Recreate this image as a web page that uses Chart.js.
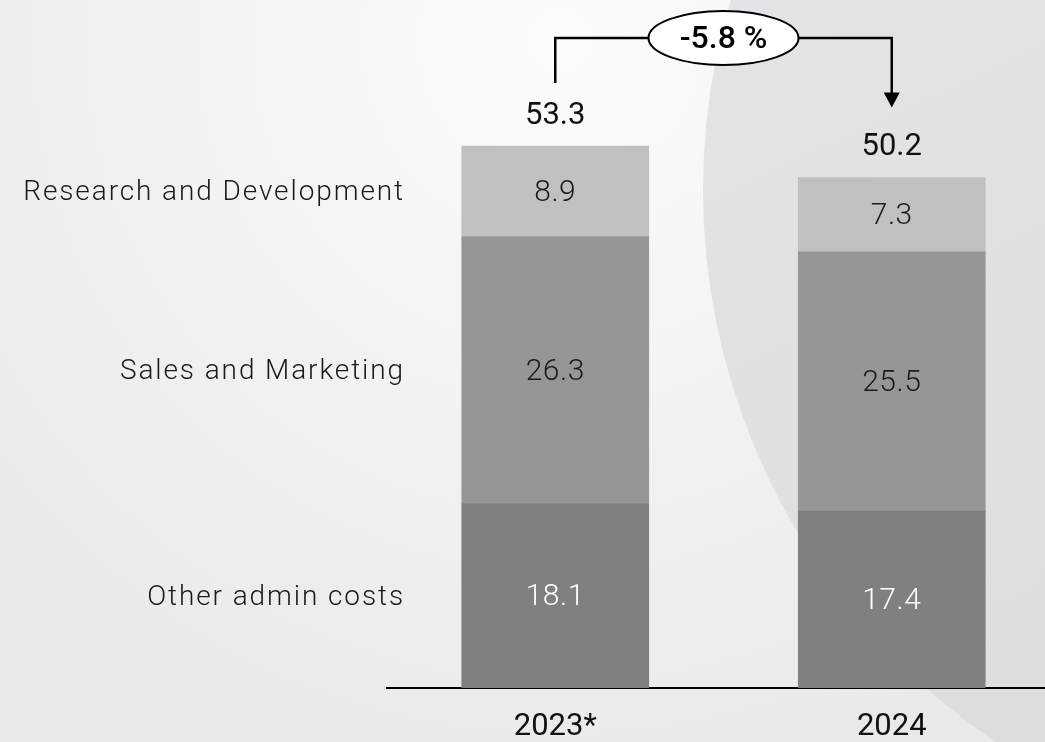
<!DOCTYPE html>
<html>
<head>
<meta charset="utf-8">
<script src="https://cdn.jsdelivr.net/npm/chart.js@4.4.1/dist/chart.umd.min.js"></script>
<style>
  html, body { margin: 0; padding: 0; overflow: hidden; background: #eeeeef; }
  #wrap { width: 1045px; height: 742px; position: relative; overflow: hidden; }
  #c { display: block; }
</style>
</head>
<body>
<div id="wrap"><canvas id="c" width="1060" height="742"></canvas></div>
<script>
const categories = ['2023*', '2024'];
const seriesNames = ['Other admin costs', 'Sales and Marketing', 'Research and Development'];
const otherAdmin = [18.1, 17.4];
const salesMarketing = [26.3, 25.5];
const researchDev = [8.9, 7.3];
const totals = [53.3, 50.2];
const changeLabel = '-5.8 %';

const FONT = 'Roboto, "Open Sans", "DejaVu Sans", sans-serif';

const bgPlugin = {
  id: 'bg',
  beforeDraw(chart) {
    const ctx = chart.ctx, W = chart.width, H = chart.height;
    ctx.save();
    const g = ctx.createRadialGradient(560, 40, 0, 560, 40, 760);
    g.addColorStop(0, '#fcfcfc');
    g.addColorStop(1, '#e9e9eb');
    ctx.fillStyle = g;
    ctx.fillRect(0, 0, W, H);
    ctx.beginPath();
    ctx.arc(1370, 190, 667, 0, Math.PI * 2);
    const g2 = ctx.createLinearGradient(700, 0, 1045, 742);
    g2.addColorStop(0, '#e3e4e8');
    g2.addColorStop(1, '#dcdde1');
    ctx.fillStyle = g2;
    ctx.fill();
    ctx.restore();
  }
};

const labelPlugin = {
  id: 'labels',
  afterDatasetsDraw(chart) {
    const ctx = chart.ctx;
    ctx.save();
    ctx.textAlign = 'center';
    ctx.textBaseline = 'middle';
    chart.data.datasets.forEach((ds, di) => {
      const meta = chart.getDatasetMeta(di);
      meta.data.forEach((el, i) => {
        const cy = (el.y + el.base) / 2;
        ctx.letterSpacing = '0.5px';
        ctx.font = '300 30px ' + FONT;
        ctx.fillStyle = di === 0 ? '#ffffff' : '#1a1a1a';
        ctx.fillText(ds.data[i].toFixed(1), el.x, cy + 2);
        if (i === 0) {
          ctx.textAlign = 'right';
          ctx.letterSpacing = '1.9px';
          ctx.font = '300 28px ' + FONT;
          ctx.fillStyle = '#1a1a1a';
          ctx.fillText(ds.label, 405, cy + 2);
          ctx.textAlign = 'center';
        }
        ctx.letterSpacing = '0px';
      });
    });
    const topMeta = chart.getDatasetMeta(chart.data.datasets.length - 1);
    ctx.font = '400 31px ' + FONT;
    ctx.fillStyle = '#111';
    topMeta.data.forEach((el, i) => {
      ctx.fillText(totals[i].toFixed(1), el.x, el.y - 30);
    });
    const a = topMeta.data[0], b = topMeta.data[1];
    const ly = 38;
    const ex = (a.x + b.x) / 2, rx = 75, ry = 27;
    ctx.strokeStyle = '#000';
    ctx.lineWidth = 2.5;
    ctx.beginPath();
    ctx.moveTo(a.x, a.y - 63);
    ctx.lineTo(a.x, ly);
    ctx.lineTo(ex - rx, ly);
    ctx.moveTo(ex + rx, ly);
    ctx.lineTo(b.x, ly);
    ctx.lineTo(b.x, b.y - 84);
    ctx.stroke();
    ctx.fillStyle = '#000';
    ctx.beginPath();
    ctx.moveTo(b.x - 8, b.y - 85);
    ctx.lineTo(b.x + 8, b.y - 85);
    ctx.lineTo(b.x, b.y - 70);
    ctx.closePath();
    ctx.fill();
    ctx.beginPath();
    ctx.ellipse(ex, ly, rx, ry, 0, 0, Math.PI * 2);
    ctx.fillStyle = '#ffffff';
    ctx.fill();
    ctx.lineWidth = 2;
    ctx.stroke();
    ctx.fillStyle = '#000';
    ctx.font = '500 32px ' + FONT;
    ctx.fillText(changeLabel, ex, ly + 2);
    ctx.restore();
  }
};

new Chart(document.getElementById('c'), {
  type: 'bar',
  data: {
    labels: categories,
    datasets: [
      { label: seriesNames[0], data: otherAdmin, backgroundColor: '#808080' },
      { label: seriesNames[1], data: salesMarketing, backgroundColor: '#969696' },
      { label: seriesNames[2], data: researchDev, backgroundColor: '#c0c0c0' }
    ]
  },
  options: {
    responsive: false,
    animation: false,
    layout: { padding: { left: 387, right: 0, top: 0, bottom: 0 } },
    plugins: { legend: { display: false }, tooltip: { enabled: false } },
    datasets: { bar: { barThickness: 187, borderWidth: 0 } },
    scales: {
      x: {
        stacked: true,
        grid: { display: false, drawTicks: false },
        border: { display: true, color: '#000', width: 2 },
        ticks: { color: '#111', font: { family: FONT, size: 31 }, padding: 21 },
        afterFit(scale) { scale.height = 54; }
      },
      y: {
        stacked: true,
        display: false,
        min: 0,
        max: 67.66
      }
    }
  },
  plugins: [bgPlugin, labelPlugin]
});
</script>
</body>
</html>
